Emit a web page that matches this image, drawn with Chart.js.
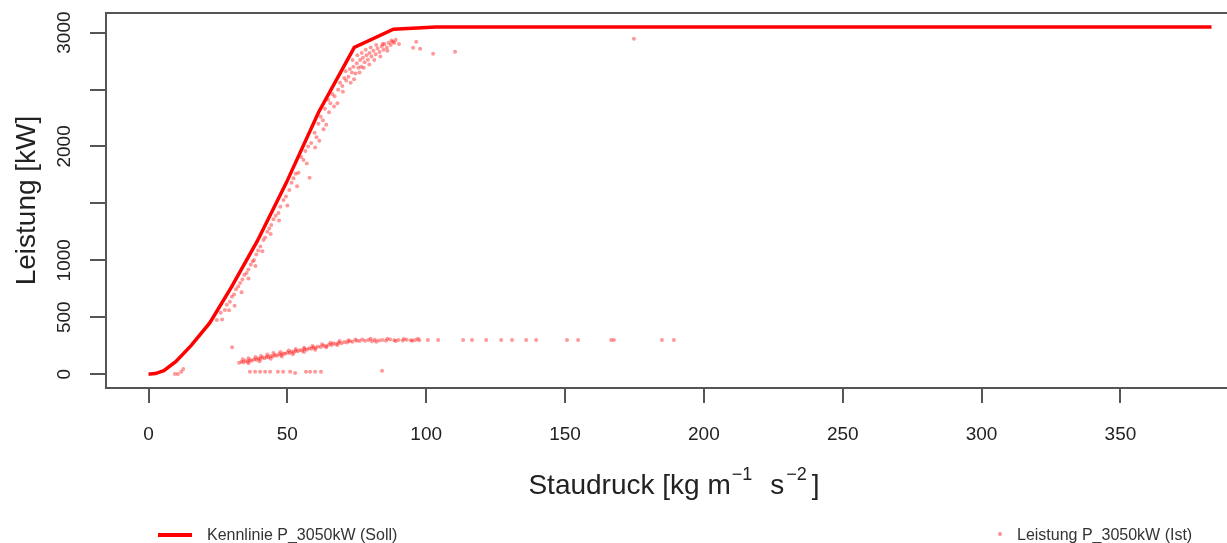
<!DOCTYPE html>
<html>
<head>
<meta charset="utf-8">
<script src="https://cdn.jsdelivr.net/npm/chart.js@4.4.1/dist/chart.umd.min.js"></script>
<style>
  html, body { margin: 0; padding: 0; overflow: hidden; background: #fff; }
  #wrap { width: 1300px; height: 543px; }
</style>
</head>
<body>
<div id="wrap"><canvas id="kennlinie"></canvas></div>
<script>
// Kennlinie (Soll): Staudruck [kg m^-1 s^-2] -> Leistung [kW]
const sollX = [0, 0.61, 2.45, 5.51, 9.8, 15.31, 22.05, 30.01, 39.2, 49.61, 61.25, 74.11, 88.2,
  103.51, 120.05, 137.81, 156.8, 177.01, 198.45, 221.11, 245, 270.11, 296.45, 324.01, 352.8, 382.81];
const sollY = [0, 0, 5, 30, 110, 250, 450, 770, 1170, 1680, 2300, 2870, 3030,
  3050, 3050, 3050, 3050, 3050, 3050, 3050, 3050, 3050, 3050, 3050, 3050, 3050];

// Messwerte (Ist): Hauptwolke entlang der Kennlinie
const istHauptX = [24.6, 26.0, 27.5, 28.2, 29.3, 30.0, 30.8, 31.5, 32.3, 33.0, 33.8, 34.5, 35.3, 36.0,
  36.8, 37.5, 38.0, 38.8, 39.5, 40.3, 41.4, 42.0, 42.8, 43.5, 44.2, 45.0, 45.8, 46.8, 47.5, 48.6,
  49.5, 50.7, 51.5, 52.2, 53.0, 54.0, 55.0, 55.8, 56.5, 57.5, 58.0, 58.6, 59.8, 60.5, 61.2, 62.0,
  62.8, 63.5, 64.7, 65.5, 66.2, 67.0, 68.3, 69.0, 69.8, 70.5, 71.2, 72.0, 72.5, 73.2, 73.8, 74.5,
  75.0, 75.6, 76.2, 76.6, 77.2, 77.8, 78.5, 79.0, 79.6, 80.3, 81.0, 81.8, 82.5, 83.2, 84.0, 84.6,
  85.0, 85.8, 86.5, 87.2, 88.0, 88.5, 89.0, 90.2, 95.3, 96.4, 97.8, 102.5, 110.4, 174.8,
  70.0, 71.0, 72.8, 73.5, 74.0, 75.2, 76.0, 76.8, 77.5, 78.2, 79.5, 80.0, 81.3, 82.0, 83.5, 84.3,
  86.0, 87.5, 63.0, 65.0, 66.8, 60.0, 57.0, 53.5, 50.0, 47.0, 44.0, 41.0, 38.5, 36.0, 33.5, 31.0,
  29.0, 26.5, 64.0, 68.0, 61.5];
const istHauptY = [475, 540, 563, 610, 636, 680, 700, 745, 770, 800, 830, 870, 888, 920,
  960, 990, 1003, 1050, 1085, 1120, 1178, 1200, 1250, 1280, 1310, 1360, 1390, 1416, 1470, 1530,
  1560, 1618, 1680, 1720, 1760, 1768, 1908, 1880, 1960, 2000, 1724, 2030, 2120, 2080, 2200, 2260,
  2230, 2330, 2410, 2380, 2460, 2440, 2498, 2560, 2530, 2600, 2580, 2612, 2680, 2650, 2700, 2640,
  2730, 2690, 2760, 2700, 2780, 2740, 2800, 2762, 2820, 2790, 2840, 2810, 2860, 2830, 2880, 2850,
  2900, 2870, 2910, 2890, 2920, 2911, 2937, 2900, 2867, 2920, 2858, 2814, 2832, 2946,
  2480, 2660, 2560, 2760, 2590, 2800, 2650, 2820, 2690, 2850, 2720, 2870, 2760, 2890, 2790, 2900,
  2840, 2930, 2150, 2300, 2350, 1990, 1850, 1650, 1480, 1350, 1230, 1080, 950, 840, 720, 600,
  560, 480, 2190, 2380, 2050];

// Messwerte (Ist): gedrosselter Betrieb um 300 kW
const istDrosselX = [30.1, 32.6, 33.5, 34.2, 35.0, 35.8, 36.5, 37.2, 38.0, 38.8, 39.5, 40.2, 41.0, 41.8,
  42.5, 43.2, 44.0, 44.8, 45.5, 46.2, 47.0, 47.8, 48.5, 49.2, 50.0, 50.8, 51.5, 52.3, 53.0, 53.8,
  54.6, 55.4, 56.2, 57.0, 57.8, 58.6, 59.4, 60.2, 61.0, 62.0, 63.0, 64.0, 65.0, 66.0, 66.5, 67.5,
  68.5, 69.5, 70.5, 71.5, 72.5, 73.5, 75.0, 76.0, 78.0, 79.2, 80.5, 81.5, 83.0, 84.2, 85.5, 87.0,
  88.5, 90.0, 91.5, 93.0, 94.5, 96.0, 97.5, 100.6, 104.3, 113.3, 116.5, 121.6, 127.0, 130.9, 136.0,
  139.6, 150.7, 154.7, 166.6, 167.6, 184.9, 189.2,
  34.0, 36.0, 38.5, 40.5, 42.8, 45.0, 47.5, 50.5, 53.0, 56.0, 59.0, 62.5, 65.5, 68.8, 72.0, 74.5,
  77.0, 80.0, 82.0, 86.0, 89.0, 92.0, 95.0, 97.0,
  36.0, 40.0, 44.0, 48.0, 52.0, 56.0, 60.0, 64.0, 68.0];
const istDrosselY = [237, 100, 108, 104, 115, 110, 122, 118, 130, 126, 138, 132, 145, 140,
  152, 148, 160, 155, 168, 162, 175, 170, 182, 178, 190, 185, 198, 193, 205, 200,
  211, 206, 220, 215, 228, 222, 235, 230, 242, 238, 250, 246, 258, 255, 272, 265,
  275, 270, 282, 278, 288, 285, 293, 290, 292, 300, 288, 302, 295, 300, 292, 303,
  298, 300, 296, 302, 298, 300, 297, 299, 299, 299, 299, 299, 299, 299, 299,
  299, 299, 299, 299, 299, 299, 299,
  130, 140, 150, 160, 172, 185, 195, 207, 220, 232, 248, 262, 275, 290, 298, 305,
  305, 310, 285, 310, 290, 308, 292, 310,
  95, 112, 135, 155, 175, 195, 215, 235, 255];

// Messwerte (Ist): Stillstand / Anlauf nahe 0 kW
const istNullX = [9.5, 10.6, 11.8, 12.5, 36.5, 38.4, 40.2, 42.0, 43.8, 46.6, 48.5, 51.0, 52.8,
  56.7, 58.2, 60.0, 62.1, 84.1];
const istNullY = [2, 0, 20, 45, 20, 20, 20, 20, 20, 20, 20, 20, 10, 20, 20, 20, 20, 30];

const xTicks = [0, 50, 100, 150, 200, 250, 300, 350];
const yTicks = [0, 500, 1000, 1500, 2000, 2500, 3000];
const yTickLabels = [0, 500, 1000, 2000, 3000];

const schrift = '"Liberation Sans", Arial, Helvetica, sans-serif';
const zuPunkten = (xs, ys) => xs.map((x, i) => ({ x: x, y: ys[i] }));

const istPunkte = zuPunkten(istHauptX, istHauptY)
  .concat(zuPunkten(istDrosselX, istDrosselY))
  .concat(zuPunkten(istNullX, istNullY));

// Rahmen, Achsentitel und Legende im Stil von R-Basisgrafik
const rahmen = {
  id: 'rahmen',
  afterDraw(chart) {
    const { ctx, chartArea: a } = chart;
    ctx.save();
    ctx.strokeStyle = '#555';
    ctx.lineWidth = 2;
    ctx.strokeRect(a.left, a.top, a.right - a.left, a.bottom - a.top);

    // y-Achsentitel
    ctx.fillStyle = '#222';
    ctx.font = '28px ' + schrift;
    ctx.save();
    ctx.translate(35, (a.top + a.bottom) / 2);
    ctx.rotate(-Math.PI / 2);
    ctx.textAlign = 'center';
    ctx.textBaseline = 'alphabetic';
    ctx.fillText('Leistung [kW]', 0, 0);
    ctx.restore();

    // x-Achsentitel mit Exponenten
    const teile = [
      { t: 'Staudruck [kg m', hoch: false, vor: 0 },
      { t: '\u22121', hoch: true, vor: 1 },
      { t: 's', hoch: false, vor: 18 },
      { t: '\u22122', hoch: true, vor: 2 },
      { t: ']', hoch: false, vor: 5 }
    ];
    const basis = 494;
    let breite = 0;
    teile.forEach(p => {
      ctx.font = (p.hoch ? '18px ' : '28px ') + schrift;
      p.w = ctx.measureText(p.t).width;
      breite += p.vor + p.w;
    });
    let x = (a.left + a.right) / 2 - 6 - breite / 2;
    ctx.textAlign = 'left';
    teile.forEach(p => {
      ctx.font = (p.hoch ? '18px ' : '28px ') + schrift;
      x += p.vor;
      ctx.fillText(p.t, x, p.hoch ? basis - 14 : basis);
      x += p.w;
    });

    // Legende unten
    ctx.font = '16px ' + schrift;
    ctx.fillStyle = '#333';
    ctx.strokeStyle = 'rgb(255,0,0)';
    ctx.lineWidth = 4;
    ctx.beginPath();
    ctx.moveTo(158, 535);
    ctx.lineTo(192, 535);
    ctx.stroke();
    ctx.fillText('Kennlinie P_3050kW (Soll)', 207, 540);
    ctx.fillStyle = 'rgba(255,0,0,0.45)';
    ctx.beginPath();
    ctx.arc(1000, 534, 2, 0, Math.PI * 2);
    ctx.fill();
    ctx.fillStyle = '#333';
    ctx.fillText('Leistung P_3050kW (Ist)', 1017, 540);
    ctx.restore();
  }
};

new Chart(document.getElementById('kennlinie'), {
  type: 'scatter',
  data: {
    datasets: [
      {
        label: 'Kennlinie P_3050kW (Soll)',
        data: zuPunkten(sollX, sollY),
        showLine: true,
        borderColor: 'rgb(255,0,0)',
        borderWidth: 3.5,
        pointRadius: 0,
        tension: 0,
        order: 0
      },
      {
        label: 'Leistung P_3050kW (Ist)',
        data: istPunkte,
        backgroundColor: 'rgba(255,0,0,0.4)',
        borderWidth: 0,
        pointRadius: 2,
        order: 1
      }
    ]
  },
  options: {
    responsive: true,
    maintainAspectRatio: false,
    animation: false,
    layout: { padding: { top: 13, right: 46, bottom: 0, left: 0 } },
    plugins: { legend: { display: false }, tooltip: { enabled: false } },
    scales: {
      x: {
        type: 'linear',
        min: -15.31,
        max: 398.1,
        afterBuildTicks: s => { s.ticks = xTicks.map(v => ({ value: v })); },
        afterFit: s => { s.height = 155; s.paddingLeft = 0; s.paddingRight = 0; },
        border: { display: false },
        grid: { drawOnChartArea: false, drawTicks: true, tickLength: 15, color: '#555', lineWidth: 2 },
        ticks: {
          autoSkip: false, maxRotation: 0, padding: 20, color: '#222',
          font: { family: schrift, size: 19 },
          callback: v => String(v)
        }
      },
      y: {
        type: 'linear',
        min: -122,
        max: 3172,
        afterBuildTicks: s => { s.ticks = yTicks.map(v => ({ value: v })); },
        afterFit: s => { s.width = 106; s.paddingTop = 0; s.paddingBottom = 0; },
        border: { display: false },
        grid: { drawOnChartArea: false, drawTicks: true, tickLength: 16, color: '#555', lineWidth: 2 },
        ticks: {
          autoSkip: false, minRotation: 90, maxRotation: 90, crossAlign: 'center', padding: 4,
          color: '#222', font: { family: schrift, size: 19 },
          callback: v => yTickLabels.includes(v) ? String(v) : ''
        }
      }
    }
  },
  plugins: [rahmen]
});
</script>
</body>
</html>
